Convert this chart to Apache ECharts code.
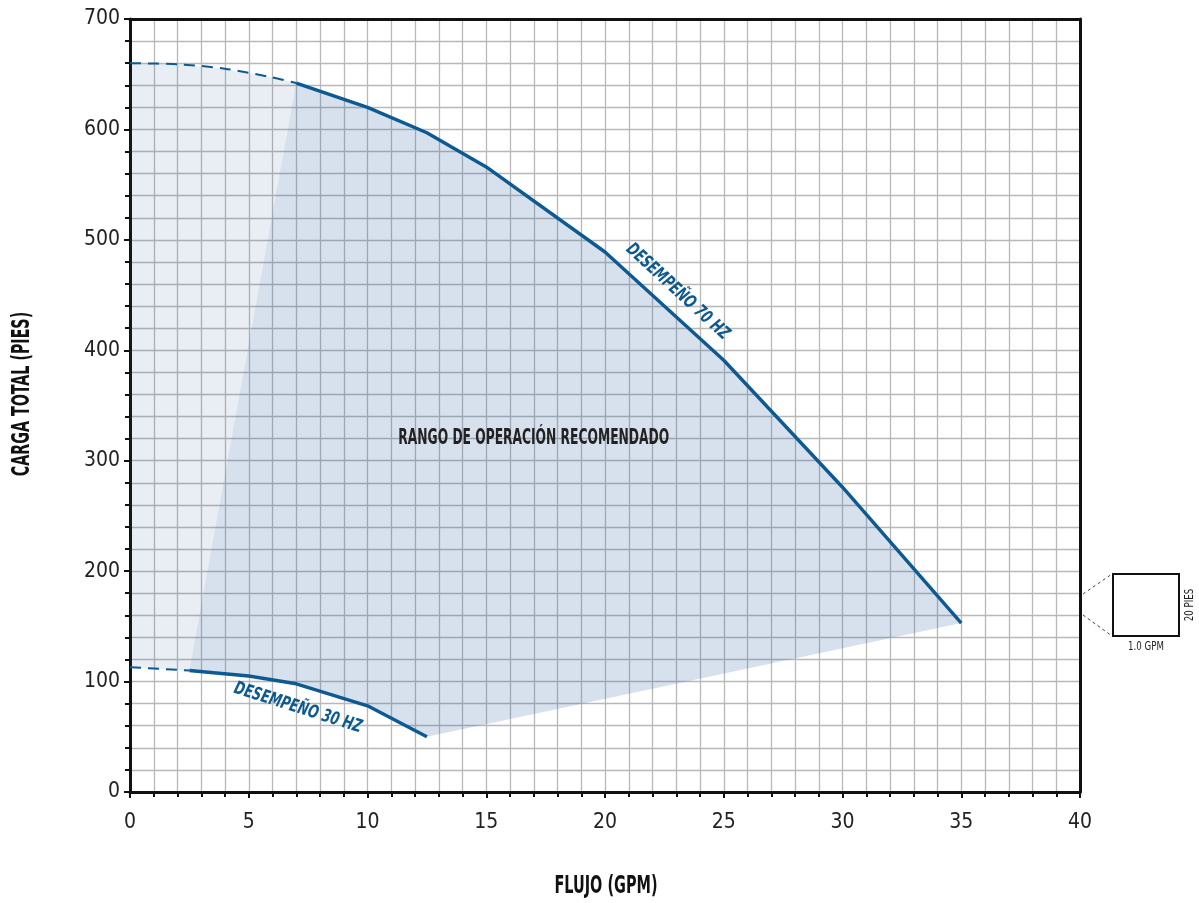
<!DOCTYPE html>
<html>
<head>
<meta charset="utf-8">
<script src="https://cdn.jsdelivr.net/npm/echarts@6/dist/echarts.min.js"></script>
<style>
  html, body { margin: 0; padding: 0; background: #fff; }
  #chart { width: 1199px; height: 903px; }
</style>
</head>
<body>
<div id="chart"></div>
<script>
// Pump performance curves: total head (ft) vs flow (GPM)
const flow70Dashed = [0, 2, 4, 6, 7];
const head70Dashed = [660, 659, 655, 647, 642];
const flow70 = [7, 10, 12.5, 15, 20, 25, 30, 35];
const head70 = [642, 620, 597, 566, 489, 391, 276, 153];

const flow30Dashed = [0, 2.5];
const head30Dashed = [113, 110];
const flow30 = [2.5, 5, 7, 10, 12.5];
const head30 = [110, 105, 98, 78, 50];

const xTicks = [0, 5, 10, 15, 20, 25, 30, 35, 40];
const yTicks = [0, 100, 200, 300, 400, 500, 600, 700];

const FONT = "'DejaVu Sans Condensed', 'Liberation Sans Narrow', sans-serif";
const BLUE = '#0d5a92';
const GRID = '#b8b8b8';
const INK = '#111';

const pairs = (xs, ys) => xs.map((x, i) => [x, ys[i]]);
const curve70Dashed = pairs(flow70Dashed, head70Dashed);
const curve70 = pairs(flow70, head70);
const curve30Dashed = pairs(flow30Dashed, head30Dashed);
const curve30 = pairs(flow30, head30);

// Recommended operating range: between the two solid curves
const rangePoly = curve70.concat(curve30.slice().reverse());
// Low-flow zone: left of the recommended range
const lowFlowPoly = curve70Dashed.concat([curve30[0]], curve30Dashed.slice().reverse());

function polygonSeries(points, fill) {
  return {
    type: 'custom',
    z: 1,
    silent: true,
    data: [[0, 0]],
    renderItem: (params, api) => ({
      type: 'polygon',
      shape: { points: points.map(p => api.coord(p)) },
      style: { fill: fill }
    })
  };
}

// Condensed annotation text placed at a data position
function textSeries(x, y, text, deg, squeeze, style) {
  return {
    type: 'custom',
    z: 5,
    silent: true,
    data: [[x, y]],
    renderItem: (params, api) => {
      const c = api.coord([api.value(0), api.value(1)]);
      return {
        type: 'text',
        x: c[0], y: c[1],
        scaleX: squeeze,
        rotation: deg * Math.PI / 180,
        style: Object.assign({
          text: text, align: 'center', verticalAlign: 'middle',
          fontFamily: FONT
        }, style)
      };
    }
  };
}

const gridLines = {
  splitLine: { show: true, lineStyle: { color: GRID, width: 1.3 } },
  minorSplitLine: { show: true, lineStyle: { color: GRID, width: 1.3 } }
};
// Top and right edges of the plot frame
const frameAxis = {
  type: 'value',
  axisLine: { show: true, onZero: false, lineStyle: { color: INK, width: 3 } },
  axisTick: { show: false }, axisLabel: { show: false },
  splitLine: { show: false }, z: 4
};

const chart = echarts.init(document.getElementById('chart'), null, { renderer: 'canvas' });

chart.setOption({
  animation: false,
  backgroundColor: '#ffffff',
  grid: { left: 130, right: 119, top: 19, bottom: 111 },
  xAxis: [
    Object.assign({
      type: 'value', min: 0, max: 40, interval: 5, position: 'bottom',
      axisLine: { show: true, onZero: false, lineStyle: { color: INK, width: 3 } },
      axisTick: { show: true, length: 6, lineStyle: { color: INK, width: 2 } },
      minorTick: { show: true, splitNumber: 5, length: 5, lineStyle: { color: INK, width: 2 } },
      axisLabel: {
        margin: 20, fontFamily: FONT, fontSize: 21, color: '#222',
        formatter: v => xTicks.includes(v) ? String(v) : ''
      }
    }, gridLines),
    Object.assign({ min: 0, max: 40, position: 'top' }, frameAxis)
  ],
  yAxis: [
    Object.assign({
      type: 'value', min: 0, max: 700, interval: 100, position: 'left',
      axisLine: { show: true, onZero: false, lineStyle: { color: INK, width: 3 } },
      axisTick: { show: true, length: 6, lineStyle: { color: INK, width: 2 } },
      minorTick: { show: true, splitNumber: 5, length: 5, lineStyle: { color: INK, width: 2 } },
      axisLabel: {
        margin: 10, fontFamily: FONT, fontSize: 21, color: '#222',
        formatter: v => yTicks.includes(v) ? String(v) : ''
      }
    }, gridLines),
    Object.assign({ min: 0, max: 700, position: 'right' }, frameAxis)
  ],
  series: [
    polygonSeries(lowFlowPoly, 'rgba(40,90,160,0.10)'),
    polygonSeries(rangePoly, 'rgba(40,90,160,0.19)'),
    {
      type: 'line', z: 3, data: curve70Dashed, symbol: 'none', smooth: 0.3,
      lineStyle: { color: BLUE, width: 2, type: [11, 7] }
    },
    {
      type: 'line', z: 3, data: curve70, symbol: 'none',
      lineStyle: { color: BLUE, width: 3.4 }
    },
    {
      type: 'line', z: 3, data: curve30Dashed, symbol: 'none',
      lineStyle: { color: BLUE, width: 2, type: [11, 7] }
    },
    {
      type: 'line', z: 3, data: curve30, symbol: 'none',
      lineStyle: { color: BLUE, width: 3.4 }
    },
    textSeries(23.05, 453, 'DESEMPEÑO 70 HZ', -42.5, 0.77,
      { fill: BLUE, fontSize: 18, fontWeight: 'bold', fontStyle: 'italic' }),
    textSeries(7.07, 76, 'DESEMPEÑO 30 HZ', -17.5, 0.77,
      { fill: BLUE, fontSize: 18, fontWeight: 'bold', fontStyle: 'italic' }),
    textSeries(17.0, 320.5, 'RANGO DE OPERACIÓN RECOMENDADO', 0, 0.65,
      { fill: '#222', fontSize: 21, fontWeight: 'bold' })
  ],
  graphic: [
    // Axis titles
    { type: 'text', x: 606, y: 887, scaleX: 0.67,
      style: { text: 'FLUJO (GPM)', fontFamily: FONT, fontSize: 24, fontWeight: 'bold',
               fill: INK, align: 'center', verticalAlign: 'middle' } },
    { type: 'text', x: 23, y: 394, rotation: Math.PI / 2, scaleX: 0.66,
      style: { text: 'CARGA TOTAL (PIES)', fontFamily: FONT, fontSize: 24, fontWeight: 'bold',
               fill: INK, align: 'center', verticalAlign: 'middle' } },
    // Scale key: one grid cell = 1.0 GPM x 20 ft
    { type: 'line', shape: { x1: 1083, y1: 594, x2: 1112, y2: 574 },
      style: { stroke: '#444', lineWidth: 1, lineDash: [3, 3] } },
    { type: 'line', shape: { x1: 1083, y1: 615, x2: 1112, y2: 636 },
      style: { stroke: '#444', lineWidth: 1, lineDash: [3, 3] } },
    { type: 'rect', shape: { x: 1113, y: 574, width: 66, height: 62 },
      style: { fill: '#fff', stroke: INK, lineWidth: 2 } },
    { type: 'text', x: 1146, y: 647, scaleX: 0.8,
      style: { text: '1.0 GPM', fontFamily: FONT, fontSize: 12, fill: '#222',
               align: 'center', verticalAlign: 'middle' } },
    { type: 'text', x: 1190, y: 605, rotation: Math.PI / 2, scaleX: 0.8,
      style: { text: '20 PIES', fontFamily: FONT, fontSize: 12, fill: '#222',
               align: 'center', verticalAlign: 'middle' } }
  ]
});
</script>
</body>
</html>
